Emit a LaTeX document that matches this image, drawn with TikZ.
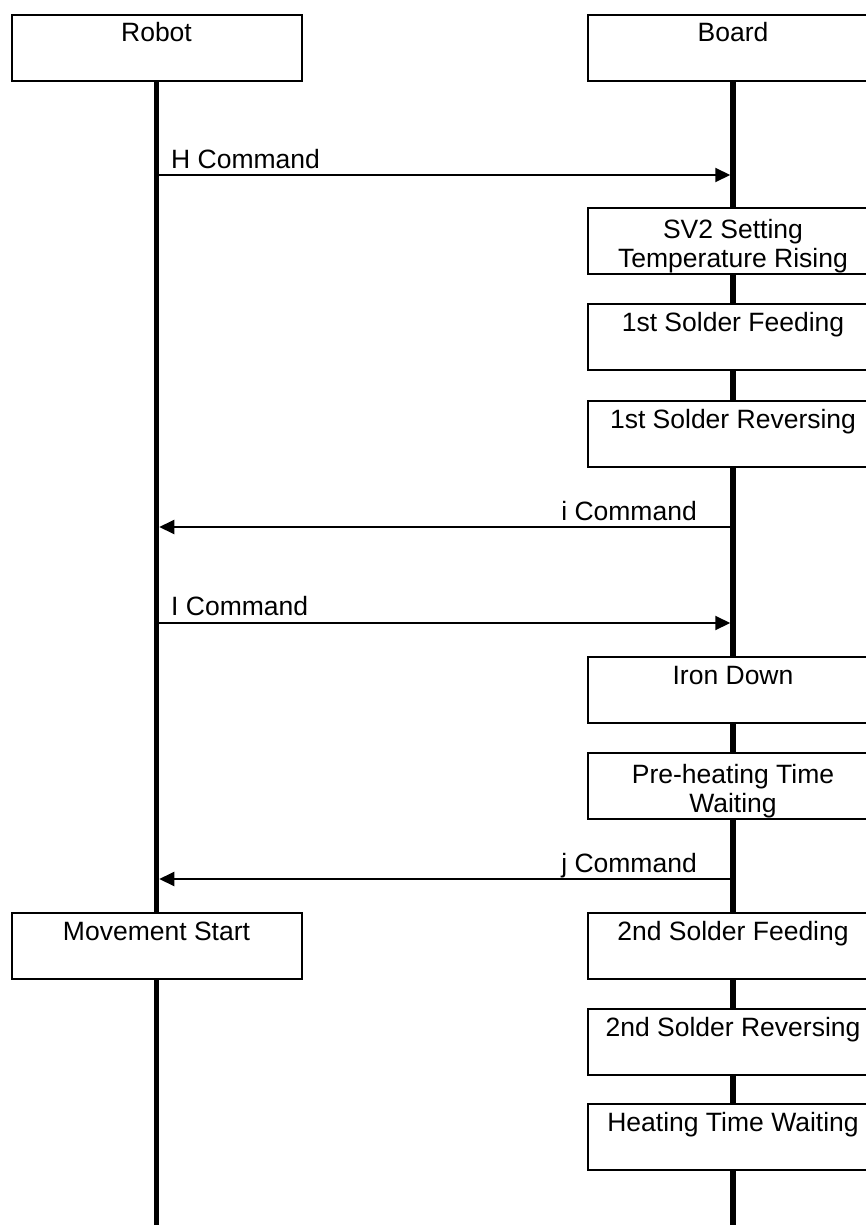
\documentclass[tikz,border=0pt]{standalone}
\usepackage{fontspec}
\setmainfont{Liberation Sans}
\usetikzlibrary{arrows.meta}
\begin{document}
\begin{tikzpicture}[x=1pt,y=-1pt,
  font=\fontsize{26.5}{29}\selectfont,
  box/.style={draw, line width=2pt, fill=white, minimum width=290pt,
    inner xsep=0pt, inner ysep=0pt, text height=27pt, text depth=39pt,
    align=center, anchor=north},
  twoline/.style={text height=59pt, text depth=7pt},
  lifeline/.style={line width=5.5pt},
  msg/.style={line width=2pt, -{Triangle[length=15pt,width=14pt]}, shorten >=2.75pt},
  msglabel/.style={inner sep=0pt}]
\useasboundingbox (0,0) rectangle (866,1225);
\clip (0,0) rectangle (866,1225);

% participants
\node[box] (robot) at (156.5,14) {Robot};
\node[box] (board) at (733,14) {Board};
\coordinate (robotend) at (156.5,1226);
\coordinate (boardend) at (733,1226);

% lifelines
\draw[lifeline] (robot.south) -- (robotend);
\draw[lifeline] (board.south) -- (boardend);

% message heights
\coordinate (yH) at (0,175);
\coordinate (yi) at (0,527);
\coordinate (yI) at (0,623);
\coordinate (yj) at (0,879);

% messages
\draw[msg] (robot.south |- yH) -- (board.south |- yH);
\node[msglabel, anchor=base west] (lH) at (171,168) {H Command};
\draw[msg] (board.south |- yi) -- (robot.south |- yi);
\node[msglabel, anchor=base east] (li) at (697,520) {i Command};
\draw[msg] (robot.south |- yI) -- (board.south |- yI);
\node[msglabel, anchor=base west] (lI) at (171,615) {I Command};
\draw[msg] (board.south |- yj) -- (robot.south |- yj);
\node[msglabel, anchor=base east] (lj) at (697,872) {j Command};

% board activities
\node[box, twoline] (sv2) at (733,207) {SV2 Setting\\Temperature Rising};
\node[box] (feed1) at (733,303) {1st Solder Feeding};
\node[box] (rev1) at (733,400) {1st Solder Reversing};
\node[box] (iron) at (733,656) {Iron Down};
\node[box, twoline] (preheat) at (733,752) {Pre-heating Time\\Waiting};
\node[box] (feed2) at (733,912) {2nd Solder Feeding};
\node[box] (rev2) at (733,1008) {2nd Solder Reversing};
\node[box] (heat) at (733,1103) {Heating Time Waiting};

% robot activity
\node[box] (move) at (156.5,912) {Movement Start};
\end{tikzpicture}
\end{document}
